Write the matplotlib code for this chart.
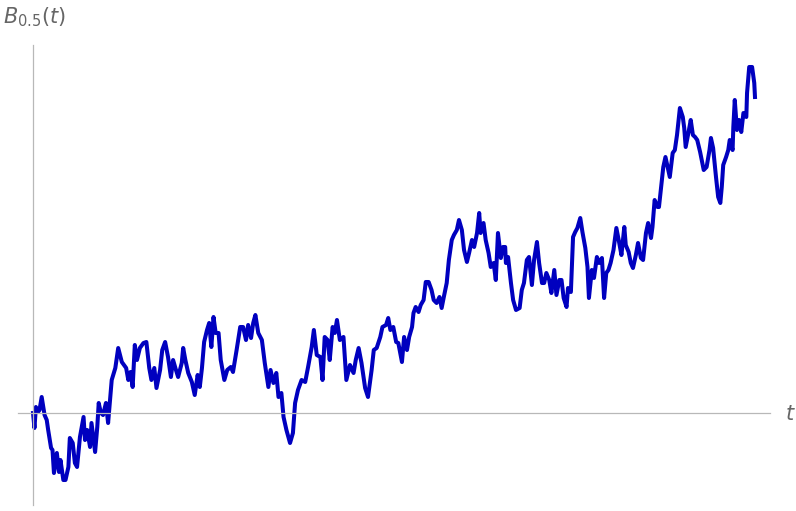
import matplotlib
matplotlib.use('Agg')
import matplotlib.pyplot as plt

# sample path
t = [0.000, 0.002, 0.004, 0.007, 0.009, 0.012, 0.016, 0.019, 0.021, 0.025,
     0.027, 0.029, 0.033, 0.036, 0.038, 0.042, 0.045, 0.049, 0.051, 0.055,
     0.058, 0.061, 0.065, 0.070, 0.072, 0.075, 0.079, 0.081, 0.086, 0.089,
     0.091, 0.094, 0.097, 0.101, 0.104, 0.107, 0.109, 0.114, 0.118, 0.123,
     0.129, 0.132, 0.135, 0.138, 0.141, 0.144, 0.148, 0.153, 0.157, 0.161,
     0.164, 0.168, 0.171, 0.176, 0.179, 0.183, 0.187, 0.191, 0.194, 0.198,
     0.201, 0.206, 0.208, 0.211, 0.215, 0.220, 0.224, 0.228, 0.231, 0.234,
     0.237, 0.241, 0.244, 0.247, 0.250, 0.253, 0.257, 0.260, 0.265, 0.269,
     0.274, 0.277, 0.282, 0.287, 0.291, 0.295, 0.298, 0.302, 0.305, 0.308,
     0.312, 0.317, 0.321, 0.326, 0.329, 0.333, 0.337, 0.340, 0.344, 0.347,
     0.351, 0.356, 0.360, 0.363, 0.367, 0.372, 0.377, 0.381, 0.386, 0.389,
     0.393, 0.398, 0.401, 0.404, 0.408, 0.411, 0.415, 0.418, 0.421, 0.425,
     0.430, 0.434, 0.439, 0.444, 0.447, 0.451, 0.455, 0.460, 0.464, 0.469,
     0.472, 0.476, 0.481, 0.484, 0.489, 0.492, 0.495, 0.499, 0.503, 0.506,
     0.511, 0.514, 0.518, 0.521, 0.525, 0.527, 0.530, 0.534, 0.537, 0.541,
     0.544, 0.548, 0.552, 0.555, 0.559, 0.563, 0.566, 0.569, 0.573, 0.576,
     0.580, 0.583, 0.587, 0.590, 0.594, 0.597, 0.601, 0.604, 0.608, 0.611,
     0.615, 0.618, 0.620, 0.624, 0.627, 0.631, 0.634, 0.638, 0.641, 0.644,
     0.648, 0.651, 0.654, 0.655, 0.658, 0.662, 0.665, 0.669, 0.674, 0.677,
     0.680, 0.684, 0.687, 0.691, 0.694, 0.698, 0.701, 0.705, 0.708, 0.711,
     0.715, 0.718, 0.722, 0.725, 0.729, 0.732, 0.735, 0.739, 0.741, 0.745,
     0.748, 0.751, 0.754, 0.758, 0.761, 0.765, 0.768, 0.770, 0.774, 0.777,
     0.781, 0.784, 0.788, 0.791, 0.794, 0.797, 0.800, 0.804, 0.808, 0.812,
     0.815, 0.819, 0.821, 0.825, 0.828, 0.831, 0.835, 0.838, 0.842, 0.845,
     0.849, 0.852, 0.856, 0.858, 0.861, 0.865, 0.867, 0.871, 0.873, 0.876,
     0.879, 0.882, 0.886, 0.889, 0.892, 0.896, 0.900, 0.902, 0.904, 0.908,
     0.911, 0.914, 0.917, 0.920, 0.924, 0.927, 0.929, 0.933, 0.937, 0.939,
     0.942, 0.946, 0.949, 0.952, 0.954, 0.956, 0.960, 0.963, 0.965, 0.969,
     0.970, 0.972, 0.975, 0.978, 0.981, 0.984, 0.988, 0.989, 0.992, 0.996,
     0.999, 1.000]
B = [0.00, -0.15, 0.06, 0.01, 0.03, 0.16, -0.02, -0.07, -0.17, -0.35,
     -0.37, -0.60, -0.40, -0.59, -0.47, -0.67, -0.67, -0.54, -0.25, -0.30,
     -0.50, -0.54, -0.24, -0.04, -0.27, -0.17, -0.34, -0.10, -0.39, -0.14,
     0.10, 0.00, -0.02, 0.10, -0.10, 0.16, 0.33, 0.45, 0.65, 0.51,
     0.45, 0.33, 0.41, 0.26, 0.68, 0.53, 0.65, 0.70, 0.71, 0.45,
     0.33, 0.45, 0.25, 0.43, 0.63, 0.71, 0.56, 0.36, 0.53, 0.43,
     0.36, 0.50, 0.65, 0.53, 0.40, 0.31, 0.18, 0.38, 0.26, 0.45,
     0.71, 0.83, 0.90, 0.66, 0.96, 0.80, 0.80, 0.53, 0.33, 0.43,
     0.46, 0.41, 0.63, 0.86, 0.86, 0.73, 0.88, 0.75, 0.90, 0.98,
     0.80, 0.73, 0.50, 0.26, 0.43, 0.30, 0.40, 0.16, 0.20, -0.04,
     -0.17, -0.30, -0.20, 0.10, 0.23, 0.33, 0.31, 0.46, 0.66, 0.83,
     0.58, 0.56, 0.33, 0.76, 0.73, 0.53, 0.86, 0.80, 0.93, 0.73,
     0.76, 0.33, 0.48, 0.40, 0.53, 0.65, 0.50, 0.25, 0.16, 0.43,
     0.63, 0.65, 0.76, 0.86, 0.88, 0.95, 0.83, 0.86, 0.71, 0.70,
     0.51, 0.76, 0.63, 0.76, 0.86, 1.00, 1.06, 1.01, 1.08, 1.13,
     1.31, 1.31, 1.23, 1.13, 1.10, 1.16, 1.05, 1.16, 1.30, 1.53,
     1.73, 1.78, 1.83, 1.93, 1.83, 1.63, 1.51, 1.60, 1.73, 1.66,
     1.80, 2.00, 1.80, 1.90, 1.73, 1.60, 1.46, 1.50, 1.33, 1.80,
     1.55, 1.66, 1.66, 1.50, 1.56, 1.30, 1.13, 1.03, 1.05, 1.23,
     1.30, 1.53, 1.56, 1.28, 1.53, 1.71, 1.50, 1.30, 1.30, 1.40,
     1.33, 1.20, 1.43, 1.18, 1.33, 1.33, 1.15, 1.06, 1.25, 1.21,
     1.76, 1.81, 1.85, 1.95, 1.81, 1.65, 1.46, 1.15, 1.43, 1.35,
     1.56, 1.50, 1.55, 1.15, 1.40, 1.43, 1.50, 1.63, 1.85, 1.70,
     1.58, 1.86, 1.68, 1.61, 1.50, 1.45, 1.58, 1.70, 1.55, 1.53,
     1.80, 1.90, 1.75, 1.86, 2.13, 2.06, 2.06, 2.33, 2.46, 2.56,
     2.46, 2.36, 2.60, 2.63, 2.78, 3.05, 2.96, 2.85, 2.66, 2.81,
     2.93, 2.78, 2.76, 2.73, 2.61, 2.50, 2.43, 2.46, 2.63, 2.75,
     2.65, 2.36, 2.16, 2.10, 2.26, 2.48, 2.56, 2.63, 2.73, 2.63,
     2.86, 3.13, 2.83, 2.93, 2.81, 3.00, 2.96, 3.20, 3.46, 3.46,
     3.30, 3.16]

plt.rcParams['mathtext.fontset'] = 'dejavusans'

fig = plt.figure(figsize=(7.96, 5.11), dpi=100)
ax = fig.add_axes([18 / 796, 6 / 511, 752 / 796, 460 / 511])

ax.plot(t, B, color='#0000bf', linewidth=2.9, solid_joinstyle='round')

ax.set_xlim(-0.0208, 1.0208)
ax.set_ylim(-0.92, 3.68)

# axes crossing at the origin, no ticks
for side in ['top', 'right']:
    ax.spines[side].set_visible(False)
ax.spines['left'].set_position(('data', 0))
ax.spines['bottom'].set_position(('data', 0))
for side in ['left', 'bottom']:
    ax.spines[side].set_color('#b8b8b8')
    ax.spines[side].set_linewidth(0.9)
ax.set_xticks([])
ax.set_yticks([])
ax.patch.set_alpha(0)

fig.text(790 / 796, 1 - 414 / 511, r'$t$', color='#666666', fontsize=15,
         ha='center', va='center')
fig.text(34 / 796, 1 - 17 / 511, r'$B_{0.5}(t)$', color='#666666', fontsize=15,
         ha='center', va='center')

fig.savefig('out.png', dpi=100)
